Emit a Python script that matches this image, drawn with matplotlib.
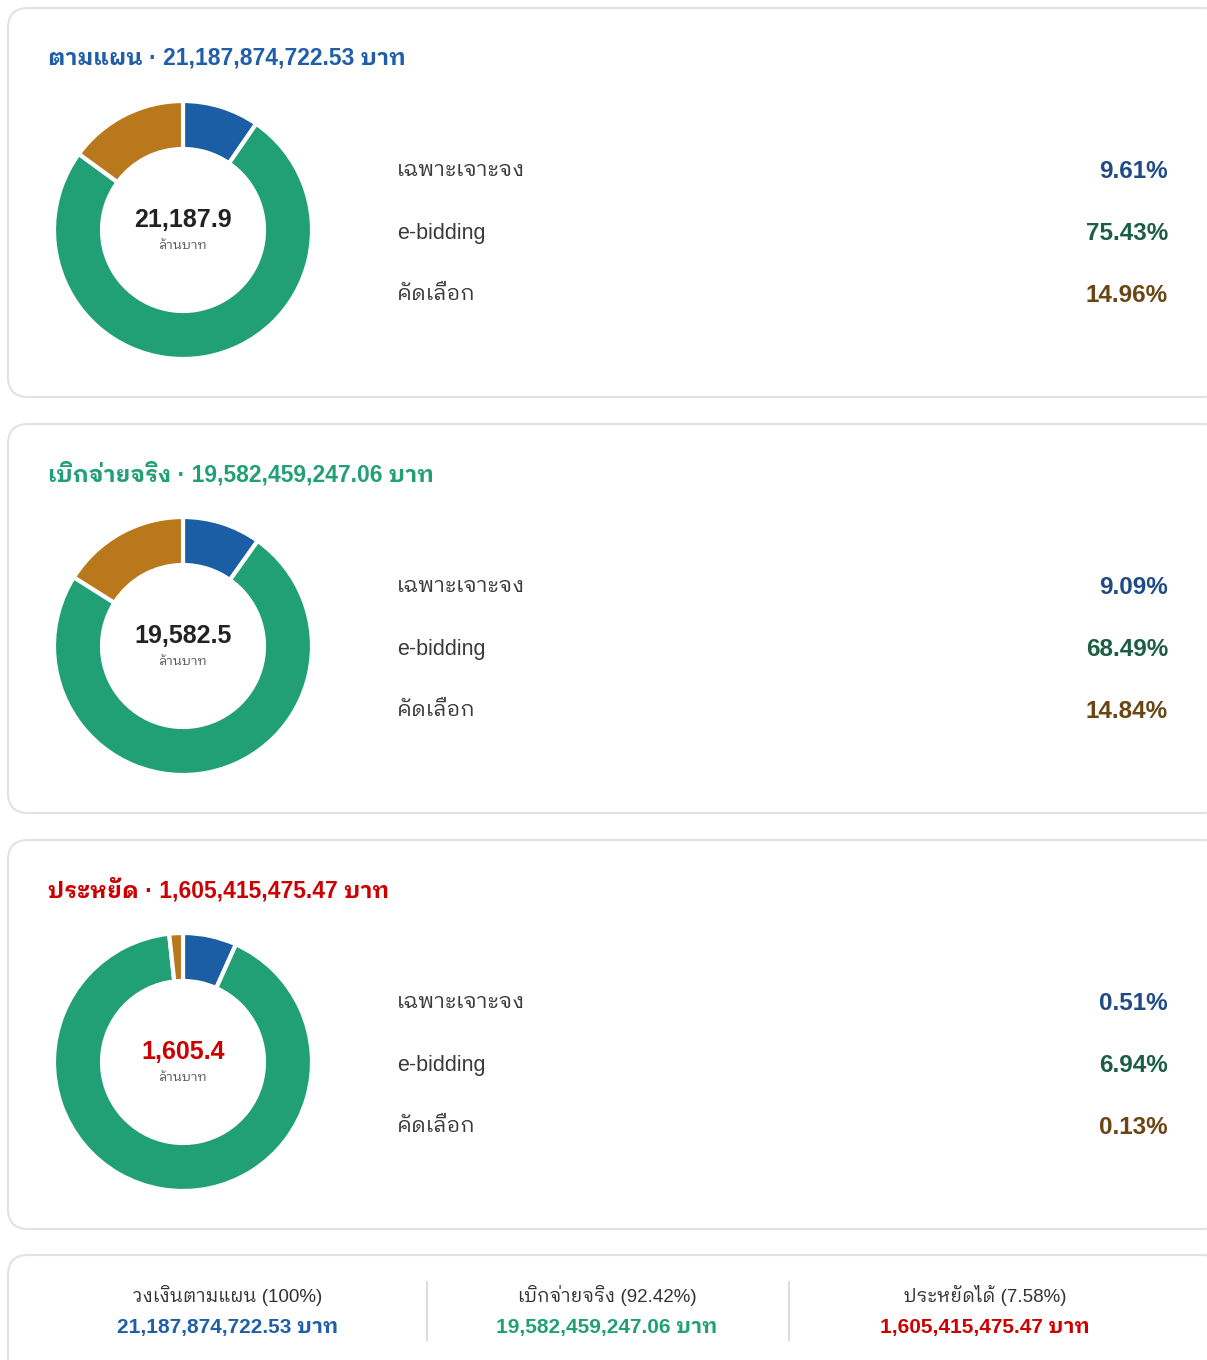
import matplotlib
matplotlib.use("Agg")
import matplotlib.pyplot as plt
from matplotlib.patches import FancyBboxPatch

plt.rcParams['font.family'] = ['Liberation Sans', 'IBM Plex Sans Thai Looped', 'DejaVu Sans']

W, H = 1207, 1360

# data
methods = ['เฉพาะเจาะจง', 'e-bidding', 'คัดเลือก']
plan_pct = [9.61, 75.43, 14.96]
paid_pct = [9.09, 68.49, 14.84]
saved_pct = [0.51, 6.94, 0.13]
card_titles = ['ตามแผน', 'เบิกจ่ายจริง', 'ประหยัด']
card_amounts = ['21,187,874,722.53', '19,582,459,247.06', '1,605,415,475.47']
card_millions = ['21,187.9', '19,582.5', '1,605.4']
summary_labels = ['วงเงินตามแผน (100%)', 'เบิกจ่ายจริง (92.42%)', 'ประหยัดได้ (7.58%)']

wedge_colors = ['#1c5ea6', '#22a075', '#b9781b']
pct_colors = ['#1f4a85', '#1c5e45', '#6b4514']
title_colors = ['#1f5fa8', '#22a075', '#cc0000']
center_colors = ['#222222', '#222222', '#cc0000']

fig = plt.figure(figsize=(W / 100, H / 100), dpi=100)
ax = fig.add_axes([0, 0, 1, 1])
ax.set_xlim(0, W)
ax.set_ylim(0, H)
ax.set_aspect('equal')
ax.axis('off')


def Y(py):
    return H - py


def card(top, bottom, left=8, right=1222):
    box = FancyBboxPatch((left, Y(bottom)), right - left, bottom - top,
                         boxstyle='round,pad=0,rounding_size=20',
                         facecolor='white', edgecolor='#e2e2e2', lw=1.5,
                         zorder=0)
    ax.add_patch(box)


series = [plan_pct, paid_pct, saved_pct]
card_tops = [8, 424, 840]
for i, vals in enumerate(series):
    top = card_tops[i]
    card(top, top + 389)

    ax.text(48, Y(top + 50), f'{card_titles[i]} · {card_amounts[i]} บาท',
            color=title_colors[i], fontsize=16.5, fontweight='bold',
            ha='left', va='center')

    cx, cy = 183, Y(top + 222)
    ax.pie(vals, colors=wedge_colors, startangle=90, counterclock=False,
           center=(cx, cy), radius=129, frame=True,
           wedgeprops=dict(width=48, edgecolor='white', linewidth=3))

    ax.text(cx, cy + 10, card_millions[i], color=center_colors[i],
            fontsize=18, fontweight='bold', ha='center', va='center')
    ax.text(cx, cy - 16, 'ล้านบาท', color='#555555', fontsize=9.5,
            ha='center', va='center')

    for j, m in enumerate(methods):
        ry = Y(top + 163 + 62 * j)
        ax.text(397, ry, m, color='#3a3a3a', fontsize=15.5, ha='left', va='center')
        ax.text(1168, ry, f'{vals[j]:.2f}%', color=pct_colors[j],
                fontsize=17.5, fontweight='bold', ha='right', va='center')

# summary card
card(1255, 1400)
col_x = [228, 607, 985]
for k in range(3):
    ax.text(col_x[k], Y(1295), summary_labels[k], color='#333333',
            fontsize=13.5, ha='center', va='center')
    ax.text(col_x[k], Y(1327), f'{card_amounts[k]} บาท', color=title_colors[k],
            fontsize=15, fontweight='bold', ha='center', va='center')
for sx in [427, 789]:
    ax.plot([sx, sx], [Y(1282), Y(1340)], color='#dddddd', lw=1.5)

ax.set_xlim(0, W)
ax.set_ylim(0, H)
fig.savefig('out.png', dpi=100)
